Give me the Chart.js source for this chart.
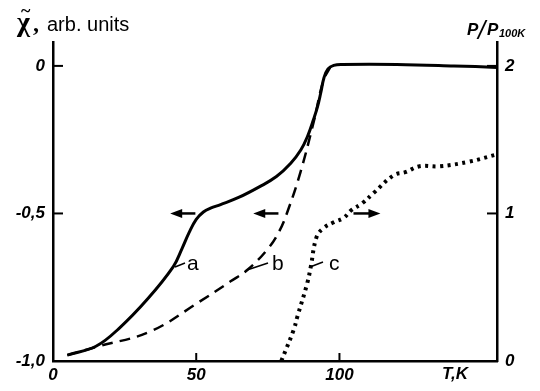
<!DOCTYPE html>
<html>
<head>
<meta charset="utf-8">
<script src="https://cdn.jsdelivr.net/npm/chart.js@4/dist/chart.umd.min.js"></script>
<style>
	html, body { margin: 0; padding: 0; background: #fff; }
	canvas { display: block; }
</style>
</head>
<body>
<canvas id="chi" width="540" height="391"></canvas>
<script>
// curve a (solid), chi vs T
const tA = [5, 15, 23, 33, 42, 45, 47.5, 50, 52.5, 55, 58.5, 65, 72, 78, 83, 86.5, 88.8, 91, 92.3, 93.5, 94.6, 96, 98, 101, 120, 140, 155]
const chiA = [-0.98, -0.95, -0.89, -0.79, -0.68, -0.62, -0.565, -0.52, -0.495, -0.482, -0.47, -0.445, -0.41, -0.375, -0.33, -0.285, -0.24, -0.18, -0.14, -0.09, -0.04, -0.01, 0.002, 0.005, 0.005, 0, -0.005]

// curve b (dashed), chi vs T
const tB = [5, 16, 34, 51, 62, 68, 75, 79, 82, 86.4, 91, 94.4, 97]
const chiB = [-0.98, -0.95, -0.90, -0.80, -0.73, -0.69, -0.62, -0.56, -0.49, -0.36, -0.19, -0.05, 0]

// curve c (dotted), P/P100K vs T
const tC = [79.7, 84, 85.3, 88.8, 90, 92, 94.4, 98, 101.5, 104, 108, 112, 119, 123, 128, 135, 145, 155]
const resC = [0, 0.21, 0.30, 0.53, 0.64, 0.84, 0.90, 0.94, 0.97, 1.02, 1.07, 1.14, 1.26, 1.28, 1.32, 1.32, 1.35, 1.40]

const xTicks = [0, 50, 100]
const leftTicks = [-1, -0.5, 0]
const rightTicks = [0, 1, 2]

const pts = (xs, ys) => xs.map((v, i) => ({ x: v, y: ys[i] }))

const tickFont = { family: 'Liberation Sans', size: 17, style: 'italic', weight: 'bold' }

const line = (ctx, x1, y1, x2, y2) => {
	ctx.beginPath()
	ctx.moveTo(x1, y1)
	ctx.lineTo(x2, y2)
	ctx.stroke()
}

const arrow = (ctx, x1, y, x2) => {
	const dir = x2 > x1 ? 1 : -1
	line(ctx, x1, y, x2 - dir * 8, y)
	ctx.beginPath()
	ctx.moveTo(x2, y)
	ctx.lineTo(x2 - dir * 12, y - 4.5)
	ctx.lineTo(x2 - dir * 12, y + 4.5)
	ctx.closePath()
	ctx.fill()
}

const annot = {
	id: 'annot',
	afterDraw(chart) {
		const { ctx, chartArea: a } = chart
		const { x, y, y2 } = chart.scales
		ctx.save()
		ctx.strokeStyle = '#000'
		ctx.fillStyle = '#000'
		ctx.lineWidth = 2

		// inward ticks
		xTicks.forEach(v => {
			if (v === 0) return
			const px = x.getPixelForValue(v)
			line(ctx, px, a.bottom, px, a.bottom - 8)
		})
		leftTicks.forEach(v => {
			const py = y.getPixelForValue(v)
			line(ctx, a.left, py, a.left + 10, py)
		})
		rightTicks.forEach(v => {
			const py = y2.getPixelForValue(v)
			line(ctx, a.right, py, a.right - 10, py)
		})

		// arrows
		ctx.lineWidth = 2.5
		const ay = y.getPixelForValue(-0.5)
		arrow(ctx, x.getPixelForValue(49.7), ay, x.getPixelForValue(40.9))
		arrow(ctx, x.getPixelForValue(78.7), ay, x.getPixelForValue(69.9))
		arrow(ctx, x.getPixelForValue(104.9), ay, x.getPixelForValue(114.3))

		// curve labels
		ctx.lineWidth = 1.5
		line(ctx, 175, 267, 185, 263)
		line(ctx, 247, 270, 268, 263)
		line(ctx, 310, 267, 323, 262)
		ctx.font = '21px "Liberation Sans"'
		ctx.textBaseline = 'alphabetic'
		ctx.textAlign = 'left'
		ctx.fillText('a', 187, 270)
		ctx.fillText('b', 272, 270)
		ctx.fillText('c', 329, 270)

		// axis titles
		ctx.font = 'bold 28px "Liberation Serif"'
		ctx.fillText('χ', 17, 31)
		ctx.font = 'bold 18px "Liberation Serif"'
		ctx.fillText('~', 21, 17)
		ctx.font = 'bold 24px "Liberation Serif"'
		ctx.fillText(',', 33, 31)
		ctx.font = '20px "Liberation Sans"'
		ctx.fillText('arb. units', 47, 31)

		ctx.font = 'italic bold 17px "Liberation Sans"'
		ctx.fillText('P', 467, 35)
		ctx.font = 'italic 26px "Liberation Sans"'
		ctx.fillText('/', 478, 39)
		ctx.font = 'italic bold 17px "Liberation Sans"'
		ctx.fillText('P', 487, 35)
		ctx.font = 'italic bold 11px "Liberation Sans"'
		ctx.fillText('100K', 499, 37)

		ctx.font = 'italic bold 17px "Liberation Sans"'
		ctx.fillText('T,K', 442, 379)
		ctx.restore()
	}
}

const drawChart = () => {
	const cv = document.getElementById('chi').getContext('2d')

	const chart = new Chart(cv, {
		type: 'line',
		data: {
			datasets: [
				{
					data: pts(tA, chiA),
					yAxisID: 'y',
					borderColor: '#000',
					borderWidth: 3,
					pointRadius: 0,
					tension: 0.4
				},
				{
					data: pts(tB, chiB),
					yAxisID: 'y',
					borderColor: '#000',
					borderWidth: 2.5,
					borderDash: [11, 7],
					pointRadius: 0,
					tension: 0.4
				},
				{
					data: pts(tC, resC),
					yAxisID: 'y2',
					borderColor: '#000',
					borderWidth: 4,
					borderDash: [3, 4.5],
					pointRadius: 0,
					tension: 0.4
				}
			]
		},
		options: {
			responsive: false,
			animation: false,
			devicePixelRatio: 1,
			layout: { padding: { top: 42, left: 0, right: 0, bottom: 0 } },
			plugins: { legend: { display: false }, tooltip: { enabled: false } },
			scales: {
				x: {
					type: 'linear',
					min: 0,
					max: 155,
					grid: { display: false, drawTicks: false },
					border: { color: '#000', width: 2.5 },
					afterBuildTicks: s => { s.ticks = xTicks.map(v => ({ value: v })) },
					afterFit: s => { s.height = 30 },
					ticks: { color: '#000', font: tickFont, padding: 4, maxRotation: 0 }
				},
				y: {
					position: 'left',
					min: -1,
					max: 0.081,
					grid: { display: false, drawTicks: false },
					border: { color: '#000', width: 2.5 },
					afterBuildTicks: s => { s.ticks = leftTicks.map(v => ({ value: v })) },
					afterFit: s => { s.width = 53 },
					ticks: {
						color: '#000',
						font: tickFont,
						padding: 8,
						callback: v => v === 0 ? '0' : v.toFixed(1).replace('.', ',')
					}
				},
				y2: {
					position: 'right',
					min: 0,
					max: 2.162,
					grid: { display: false, drawTicks: false },
					border: { color: '#000', width: 2.5 },
					afterBuildTicks: s => { s.ticks = rightTicks.map(v => ({ value: v })) },
					afterFit: s => { s.width = 43 },
					ticks: { color: '#000', font: tickFont, padding: 8 }
				}
			}
		},
		plugins: [annot]
	})
}

window.addEventListener('load', drawChart)
</script>
</body>
</html>
